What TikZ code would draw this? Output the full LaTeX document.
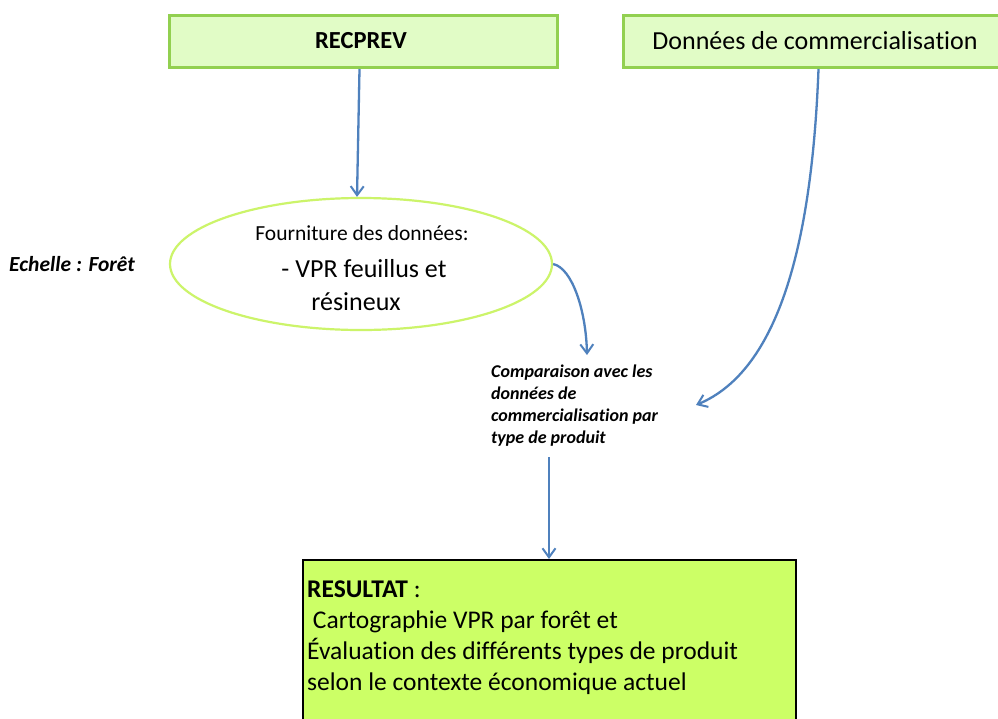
\documentclass[tikz,border=0pt]{standalone}
\usepackage{fontspec}
\setmainfont{Carlito}[Ligatures={NoCommon,NoContextual}, RawFeature={-liga;-clig;-calt;-dlig}]
\usetikzlibrary{arrows.meta,shapes.geometric}
\definecolor{boxfill}{HTML}{E1FCC6}
\definecolor{boxline}{HTML}{92D050}
\definecolor{ellline}{HTML}{CCF46A}
\definecolor{resfill}{HTML}{CCFF66}
\definecolor{arrowblue}{HTML}{4F81BD}
\tikzset{
  topbox/.style={draw=boxline, fill=boxfill, line width=3pt, rectangle, inner sep=0pt},
  flow/.style={draw=arrowblue, line width=2.3pt, -{Straight Barb[length=9pt,width=13pt,line width=2pt]}},
}
\begin{document}
\begin{tikzpicture}[x=1pt,y=-1pt]
\clip (0,0) rectangle (998,718);
\useasboundingbox (0,0) rectangle (998,718);
\fill[white] (0,0) rectangle (998,718);

% source boxes
\node[topbox, minimum width=388pt, minimum height=52pt, anchor=north west] (recprev) at (168,14) {};
\node[font=\fontsize{24.5}{28}\selectfont\bfseries, anchor=base] (recprevtxt) at (361,48) {RECPREV};
\node[topbox, minimum width=400pt, minimum height=52pt, anchor=north west] (donnees) at (622,14) {};
\node[font=\fontsize{26}{30}\selectfont, anchor=base] (donneestxt) at (815,49) {Données de commercialisa\kern0pt tion};

% scale label
\node[font=\fontsize{21.5}{24}\selectfont\bfseries\itshape, anchor=base west, inner sep=0pt] (echelle) at (9,271) {Echelle : Forêt};

% data supply ellipse
\node[ellipse, draw=ellline, line width=2.2pt, minimum width=382pt, minimum height=132pt] (ell) at (361,264) {};
\node[font=\fontsize{21.5}{24}\selectfont, anchor=base] (elltxta) at (362,240) {Fourniture des données:};
\node[font=\fontsize{26}{30}\selectfont, anchor=base] (elltxtb) at (364,277) {- VPR feuillus et};
\node[font=\fontsize{26}{30}\selectfont, anchor=base] (elltxtc) at (356,310) {résineux};

% comparison step (anchored on the baseline of its last line)
\node[font=\fontsize{18}{21.7}\selectfont\bfseries\itshape, anchor=base west, align=left, inner sep=0pt] (cmp) at (491,443)
  {Comparaison avec les\\données de\\commercialisa\kern0pt tion par\\type de produit};
\coordinate (cmpin) at (587,355);
\coordinate (cmpside) at (696,405);
\coordinate (cmpout) at (549,457);

% result box
\node[draw=black, fill=resfill, line width=2pt, rectangle, minimum width=493pt, minimum height=200pt, anchor=north west, inner sep=0pt] (res) at (302,559) {};
\node[font=\fontsize{25.5}{30.7}\selectfont, anchor=base west, align=left, inner sep=0pt] (restxt) at (307,690)
  {\textbf{RESULTAT} :\\ \ Cartographie VPR par forêt et\\Évaluation des différents types de produit\\selon le contexte économique actuel};

% connectors
\draw[flow] ([xshift=-4pt]recprev.south) -- ([xshift=-4pt]ell.north);
\draw[flow] (ell.east) .. controls (572,268) and (586,310) .. (cmpin);
\draw[flow] ([xshift=-5pt]donnees.south) .. controls (812,240) and (780,370) .. (cmpside);
\draw[flow] (cmpout) -- (res.north west -| cmpout);
\end{tikzpicture}
\end{document}
